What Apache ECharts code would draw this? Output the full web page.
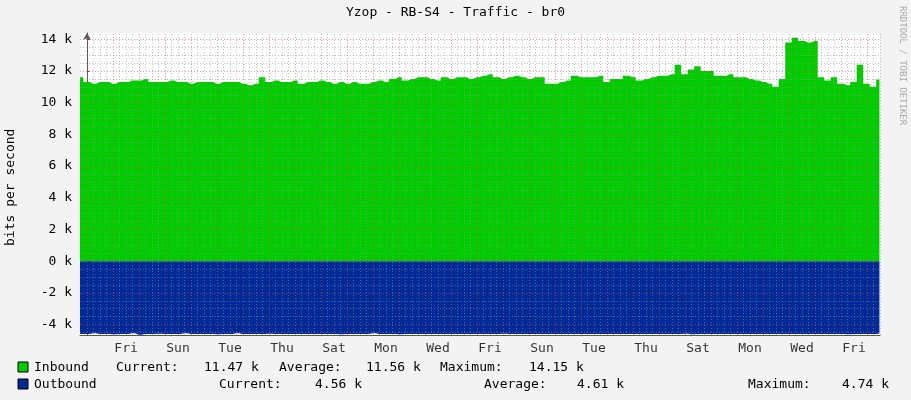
<!DOCTYPE html>
<html><head><meta charset="utf-8">
<script src="https://cdn.jsdelivr.net/npm/echarts@6/dist/echarts.min.js"></script>
<style>html,body{margin:0;background:#f3f3f3}#charts{width:911px;height:400px}</style>
</head><body><div id="charts"></div>
<script>
// 6-hour samples, hours counted from the first midnight
const inbound = [11.6,11.3,11.2,11.3,11.3,11.2,11.3,11.3,11.4,11.4,11.5,
  11.3,11.3,11.3,11.4,11.3,11.3,11.2,11.3,11.3,11.3,
  11.2,11.3,11.3,11.3,11.2,11.1,11.2,11.6,11.3,11.4,
  11.3,11.3,11.4,11.2,11.3,11.3,11.4,11.3,11.2,11.3,
  11.2,11.3,11.2,11.2,11.3,11.4,11.3,11.5,11.6,11.4,
  11.5,11.6,11.6,11.5,11.4,11.6,11.5,11.6,11.6,11.5,
  11.6,11.7,11.8,11.6,11.5,11.6,11.7,11.6,11.5,11.6,
  11.6,11.2,11.2,11.3,11.4,11.7,11.6,11.6,11.6,11.7,
  11.3,11.5,11.5,11.7,11.6,11.4,11.5,11.6,11.7,11.7,
  11.8,12.4,11.8,12.1,12.3,12.0,12.0,11.7,11.7,11.8,
  11.6,11.6,11.5,11.4,11.3,11.2,11.0,11.5,13.8,14.1,
  13.9,13.8,13.9,11.6,11.4,11.6,11.2,11.1,11.3,12.4,11.2,11.0,11.47];
const outbound = [-4.6,-4.6,-4.55,-4.6,-4.6,-4.62,-4.6,-4.6,-4.55,-4.65,-4.6,
  -4.6,-4.58,-4.6,-4.6,-4.6,-4.55,-4.6,-4.6,-4.6,-4.6,
  -4.62,-4.6,-4.6,-4.55,-4.6,-4.6,-4.6,-4.6,-4.58,-4.6,
  -4.6,-4.6,-4.6,-4.6,-4.6,-4.6,-4.6,-4.6,-4.6,-4.62,
  -4.6,-4.6,-4.6,-4.6,-4.55,-4.6,-4.6,-4.6,-4.62,-4.6,
  -4.6,-4.6,-4.6,-4.6,-4.6,-4.6,-4.6,-4.6,-4.6,-4.6,
  -4.6,-4.6,-4.6,-4.6,-4.58,-4.6,-4.6,-4.6,-4.6,-4.6,
  -4.6,-4.6,-4.6,-4.6,-4.6,-4.6,-4.6,-4.6,-4.6,-4.6,
  -4.6,-4.6,-4.6,-4.6,-4.6,-4.6,-4.6,-4.6,-4.6,-4.6,
  -4.6,-4.6,-4.58,-4.62,-4.6,-4.6,-4.6,-4.6,-4.6,-4.6,
  -4.6,-4.6,-4.6,-4.6,-4.6,-4.6,-4.6,-4.6,-4.6,-4.6,
  -4.6,-4.6,-4.6,-4.6,-4.6,-4.6,-4.6,-4.62,-4.6,-4.6,-4.6,-4.6,-4.56];
const dayLabels = ['Fri','Sun','Tue','Thu','Sat','Mon','Wed','Fri','Sun','Tue','Thu','Sat','Mon','Wed','Fri'];
const yTicks = [-4,-2,0,2,4,6,8,10,12,14];
const legendRows = [
  ['Inbound', [['Current:',116],['11.47 k',204],['Average:',279],['11.56 k',366],['Maximum:',440],['14.15 k',529]], '#00cc00'],
  ['Outbound', [['Current:',219],['4.56 k',315],['Average:',484],['4.61 k',577],['Maximum:',748],['4.74 k',842]], '#002a97']
];

const xs = inbound.map((v, i) => i * 6 - 6.5);
const redV = [], grayV = [];
for (let h = 0; h <= 732; h += 6) (h % 24 === 0 ? redV : grayV).push({xAxis: h});
const redH = [], grayH = [];
for (let y = -4.5; y <= 14; y += 0.5) (y % 2 === 0 ? redH : grayH).push({yAxis: y});
const mono = 'DejaVu Sans Mono';
const lineStyleOf = c => ({color: c, type: [1, 2], width: 1});

const graphic = [
  {type: 'text', left: 'center', top: 6, style: {text: 'Yzop - RB-S4 - Traffic - br0', font: '13px ' + mono, fill: '#000'}},
  {type: 'text', x: 4, y: 246, rotation: Math.PI / 2, style: {text: 'bits per second', font: '13px ' + mono, fill: '#000'}},
  {type: 'text', x: 907, y: 6, rotation: -Math.PI / 2, style: {text: 'RRDTOOL / TOBI OETIKER', font: '9px ' + mono, fill: '#aaa'}}
];
legendRows.forEach((r, k) => {
  const y = 361 + k * 17;
  graphic.push({type: 'rect', shape: {x: 18, y: y + 1, width: 10, height: 10}, style: {fill: r[2], stroke: '#000'}});
  graphic.push({type: 'text', x: 34, y: y, style: {text: r[0], font: '13px ' + mono, fill: '#000'}});
  r[1].forEach(t => graphic.push({type: 'text', x: t[1], y: y, style: {text: t[0], font: '13px ' + mono, fill: '#000'}}));
});

const option = {
  backgroundColor: '#f3f3f3',
  animation: false,
  graphic: graphic,
  grid: {left: 80, right: 31, top: 33, bottom: 65, show: true, backgroundColor: '#fff', borderWidth: 0},
  xAxis: {
    type: 'value', min: -6.5, max: 732,
    axisLine: {onZero: false, lineStyle: {color: '#555'}},
    axisTick: {show: false}, axisLabel: {show: false}, splitLine: {show: false}
  },
  yAxis: {
    type: 'value', min: -4.66, max: 14.4,
    axisLine: {show: true, symbol: ['none', 'arrow'], symbolSize: [6, 7], lineStyle: {color: '#555'}},
    axisTick: {show: true, customValues: yTicks, length: 3, inside: true},
    axisLabel: {customValues: yTicks, formatter: v => v + ' k', fontFamily: mono, fontSize: 13, color: '#000', margin: 8},
    splitLine: {show: false}
  },
  series: [
    {type: 'line', data: xs.map((x, i) => [x, inbound[i]]), step: 'middle', symbol: 'none',
      lineStyle: {width: 0}, areaStyle: {color: '#00cc00', opacity: 1}},
    {type: 'line', data: xs.map((x, i) => [x, outbound[i]]), step: 'middle', symbol: 'none',
      lineStyle: {width: 0}, areaStyle: {color: '#002a97', opacity: 1}},
    {type: 'line', data: [], silent: true, z: 5,
      markLine: {symbol: 'none', silent: true, label: {show: false}, animation: false,
        lineStyle: lineStyleOf('rgba(150,150,150,0.55)'),
        data: grayV.concat(grayH)}},
    {type: 'line', data: [], silent: true, z: 6,
      markLine: {symbol: 'none', silent: true, label: {show: false}, animation: false,
        lineStyle: lineStyleOf('rgba(230,80,80,0.6)'),
        data: redV.concat(redH)}},
    {type: 'scatter', symbolSize: 0, silent: true,
      data: dayLabels.map((d, i) => ({value: [48 * i + 36, -4.66], name: d})),
      label: {show: true, position: 'bottom', distance: 7, formatter: p => p.name,
        fontFamily: mono, fontSize: 13, color: '#000'}}
  ]
};
const chart = echarts.init(document.getElementById('charts'));
chart.setOption(option);
</script></body></html>
